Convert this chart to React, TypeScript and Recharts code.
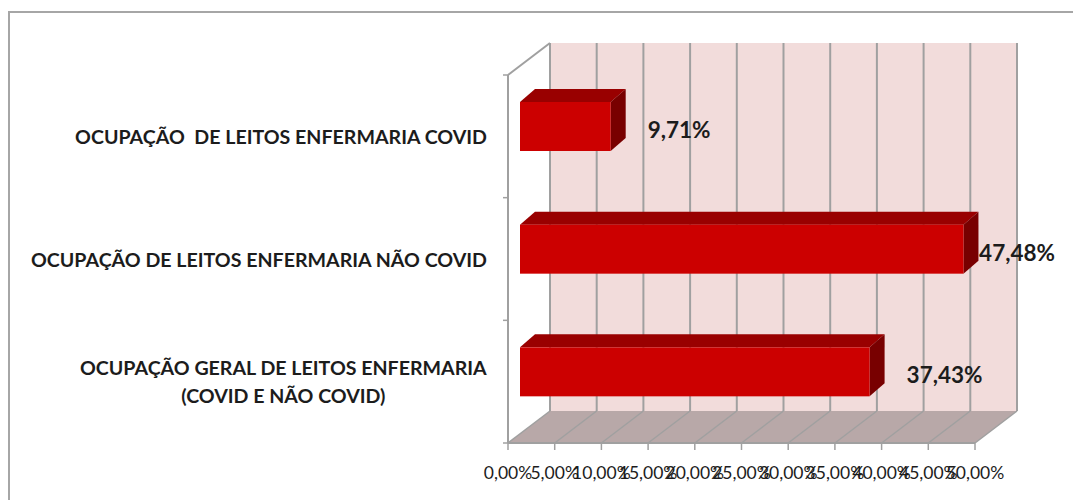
import { BarChart, Bar, XAxis, YAxis, ReferenceArea } from 'recharts';

// categories listed top to bottom, as shown in the chart
const CATEGORIES = [
    'OCUPAÇÃO  DE LEITOS ENFERMARIA COVID',
    'OCUPAÇÃO DE LEITOS ENFERMARIA NÃO COVID',
    'OCUPAÇÃO GERAL DE LEITOS ENFERMARIA\n(COVID E NÃO COVID)',
];
const OCCUPANCY = [9.71, 47.48, 37.43];
const X_TICKS = [0, 5, 10, 15, 20, 25, 30, 35, 40, 45, 50];
const X_MAX = 50;

const chartData = CATEGORIES.map((name, i) => ({ name, value: OCCUPANCY[i] }));

// fake 3D depth offsets
const WALL_DX = 42;
const WALL_DY = 32;
const FACE_DX = 12;
const FACE_DY = 10;
const BOX_DX = 15;
const BOX_DY = 13;

const GRID = '#a0a0a0';
const TEXT = '#1c1c1c';
const FONT = 'Lato, "Open Sans", sans-serif';
const CAT_SIZE = 19.6;
const VALUE_SIZE = 22.5;
const TICK_SIZE = 17.5;
const LABEL_RIGHT_LIMIT = 1055;

const pct = (v: number) => v.toFixed(2).replace('.', ',') + '%';

let ctx: CanvasRenderingContext2D | null = null;
function textWidth(s: string, font: string) {
    if (!ctx) ctx = document.createElement('canvas').getContext('2d');
    if (!ctx) return s.length * 10;
    ctx.font = font;
    return ctx.measureText(s).width;
}

function Room({ x, y, width, height }: any) {
    const x0 = x;
    const x1 = x + width;
    const top = y;
    const bottom = y + height;
    const px = (t: number) => x0 + (t / X_MAX) * width;
    const bands = CATEGORIES.length;
    return (
        <g>
            <rect x={x0 + WALL_DX} y={top - WALL_DY} width={width} height={height} fill="#f2dcdb" />
            <polygon
                points={`${x0},${bottom} ${x1},${bottom} ${x1 + WALL_DX},${bottom - WALL_DY} ${x0 + WALL_DX},${bottom - WALL_DY}`}
                fill="#b8a8a8"
            />
            {X_TICKS.map((t) => (
                <g key={t}>
                    <line x1={px(t) + WALL_DX} y1={top - WALL_DY} x2={px(t) + WALL_DX} y2={bottom - WALL_DY} stroke={GRID} strokeWidth={2} />
                    <line x1={px(t)} y1={bottom} x2={px(t) + WALL_DX} y2={bottom - WALL_DY} stroke={GRID} strokeWidth={1.5} />
                </g>
            ))}
            {/* left wall */}
            <line x1={x0} y1={top} x2={x0} y2={bottom} stroke={GRID} strokeWidth={2} />
            <line x1={x0} y1={top} x2={x0 + WALL_DX} y2={top - WALL_DY} stroke={GRID} strokeWidth={2} />
            {Array.from({ length: bands + 1 }, (_, i) => {
                const yy = top + (i * height) / bands;
                return <line key={i} x1={x0 - 5} y1={yy} x2={x0} y2={yy} stroke={GRID} strokeWidth={1.5} />;
            })}
        </g>
    );
}

function Box3D(props: any) {
    const { x, y, width, height, payload } = props;
    const fx = x + FACE_DX;
    const fy = y - FACE_DY;
    const ex = fx + width;
    const label = pct(payload.value);
    const font = `bold ${VALUE_SIZE}px Lato`;
    const lw = textWidth(label, font);
    const tx = Math.min(ex + BOX_DX + 22, LABEL_RIGHT_LIMIT - lw);
    return (
        <g>
            <polygon
                points={`${fx},${fy} ${ex},${fy} ${ex + BOX_DX},${fy - BOX_DY} ${fx + BOX_DX},${fy - BOX_DY}`}
                fill="#990000"
            />
            <polygon
                points={`${ex},${fy} ${ex + BOX_DX},${fy - BOX_DY} ${ex + BOX_DX},${fy + height - BOX_DY} ${ex},${fy + height}`}
                fill="#780000"
            />
            <rect x={fx} y={fy} width={width} height={height} fill="#cc0000" />
            <text
                x={tx}
                y={fy + height / 2 + 3}
                dominantBaseline="central"
                fontFamily={FONT}
                fontWeight="bold"
                fontSize={VALUE_SIZE}
                fill={TEXT}
            >
                {label}
            </text>
        </g>
    );
}

function CategoryTick({ x, y, payload }: any) {
    const lines = String(payload?.value ?? '').split('\n');
    const right = x - 21;
    const lineH = 28;
    const font = `bold ${CAT_SIZE}px Lato`;
    const maxW = Math.max(...lines.map((l) => textWidth(l, font)));
    const y0 = y - ((lines.length - 1) * lineH) / 2;
    return (
        <g>
            {lines.map((l, i) => (
                <text
                    key={i}
                    x={lines.length > 1 ? right - maxW / 2 : right}
                    y={y0 + i * lineH}
                    textAnchor={lines.length > 1 ? 'middle' : 'end'}
                    dominantBaseline="central"
                    fontFamily={FONT}
                    fontWeight="bold"
                    fontSize={CAT_SIZE}
                    fill={TEXT}
                    style={{ whiteSpace: 'pre' }}
                >
                    {l}
                </text>
            ))}
        </g>
    );
}

function PercentTick({ x, y, payload }: any) {
    return (
        <text x={x} y={y} dy={27} textAnchor="middle" fontFamily={FONT} fontSize={TICK_SIZE} fill={TEXT}>
            {pct(payload.value)}
        </text>
    );
}

export default function App() {
    return (
        <div style={{ position: 'fixed', left: 0, top: 0, width: 1073, height: 500, background: '#fff', overflow: 'hidden' }}>
            <div
                style={{
                    position: 'absolute', left: 8, top: 11, width: 1200, height: 700,
                    borderLeft: '2px solid #a6a6a6', borderTop: '2px solid #a6a6a6',
                }}
            />
            <div style={{ position: 'absolute', left: 0, top: 0 }}>
                <BarChart
                    width={1073}
                    height={500}
                    data={chartData}
                    layout="vertical"
                    margin={{ top: 75, right: 98, bottom: 17, left: 0 }}
                >
                    <ReferenceArea x1={0} x2={X_MAX} ifOverflow="visible" shape={<Room />} zIndex={-100} />
                    <XAxis
                        type="number"
                        domain={[0, X_MAX]}
                        ticks={X_TICKS}
                        interval={0}
                        height={40}
                        axisLine={{ stroke: GRID, strokeWidth: 2 }}
                        tickLine={{ stroke: GRID, strokeWidth: 1.5 }}
                        tickSize={7}
                        tick={<PercentTick />}
                    />
                    <YAxis
                        type="category"
                        dataKey="name"
                        width={508}
                        interval={0}
                        axisLine={false}
                        tickLine={false}
                        tickSize={0}
                        tickMargin={0}
                        tick={<CategoryTick />}
                    />
                    <Bar dataKey="value" barSize={49} shape={<Box3D />} isAnimationActive={false} />
                </BarChart>
            </div>
        </div>
    );
}
